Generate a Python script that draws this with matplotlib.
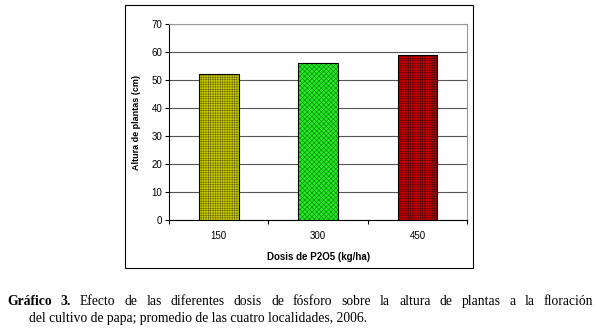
import numpy as np
import matplotlib.pyplot as plt
from matplotlib.patches import Rectangle

dosis = ['150', '300', '450']
altura = [52, 56, 59]
colores = ['#d0d000', '#22ee22', '#cc0000']
tramas = ['+++++++', 'xxxxxxx', '+++++++']
hatch_col = ['#6a6a00', '#0a7a0a', '#500000']

plt.rcParams['hatch.linewidth'] = 0.4

fig = plt.figure(figsize=(6, 3.3), dpi=100)
# marco exterior del grafico
fig.patches.append(Rectangle((0.208, 0.188), 0.58, 0.797, transform=fig.transFigure,
                             fill=False, edgecolor='black', linewidth=0.8))

ax = fig.add_axes([0.2817, 0.3333, 0.497, 0.594])
x = np.arange(len(dosis))
for i in range(len(dosis)):
    ax.bar(x[i], altura[i], width=0.4, color=colores[i], edgecolor=hatch_col[i],
           hatch=tramas[i], linewidth=0, zorder=3)
    ax.bar(x[i], altura[i], width=0.4, fill=False, edgecolor='black', linewidth=0.8, zorder=4)

ax.set_xlim(-0.5, 2.5)
ax.set_ylim(0, 70)
ax.set_yticks(range(0, 71, 10))
ax.yaxis.grid(True, color='#555555', linewidth=0.8, zorder=0)
ax.set_xticks(x)
ax.set_xticklabels(dosis, fontsize=7, family='Liberation Sans')
ax.set_xticks([-0.5, 0.5, 1.5, 2.5], minor=True)
ax.tick_params(axis='x', which='major', length=0, pad=8)
ax.tick_params(axis='x', which='minor', length=3, width=0.8, direction='out')
ax.tick_params(axis='y', length=3, width=0.8, labelsize=7, pad=2)
for t in ax.get_yticklabels():
    t.set_family('Liberation Sans')
ax.spines['top'].set_color('#999999')
ax.spines['right'].set_color('#999999')
ax.spines['left'].set_linewidth(0.8)
ax.spines['bottom'].set_linewidth(0.8)
ax.set_ylabel('Altura de plantas (cm)', fontsize=6.5, fontweight='bold', family='Liberation Sans', labelpad=7)
ax.set_xlabel('Dosis de P2O5 (kg/ha)', fontsize=7, fontweight='bold', family='Liberation Sans', labelpad=8)

# pie de figura, primera linea justificada
fs = 9.8
y1 = 1 - 305 / 330
palabras = ['Gráfico', '3.', 'Efecto', 'de', 'las', 'diferentes', 'dosis', 'de', 'fósforo', 'sobre',
            'la', 'altura', 'de', 'plantas', 'a', 'la', 'floración']
textos = []
for k, p in enumerate(palabras):
    textos.append(fig.text(0, y1, p, fontsize=fs, family='Liberation Serif', va='baseline',
                           fontweight='bold' if k < 2 else 'normal'))
fig.canvas.draw()
anchos = [t.get_window_extent().width for t in textos]
x0, x1 = 7, 593
hueco = (x1 - x0 - sum(anchos)) / (len(palabras) - 1)
pos = x0
for t, w in zip(textos, anchos):
    t.set_x(pos / 600)
    pos += w + hueco
fig.text(29 / 600, 1 - 322 / 330,
         'del cultivo de papa; promedio de las cuatro localidades, 2006.',
         fontsize=fs, family='Liberation Serif', va='baseline')

fig.savefig('out.png', dpi=100)
